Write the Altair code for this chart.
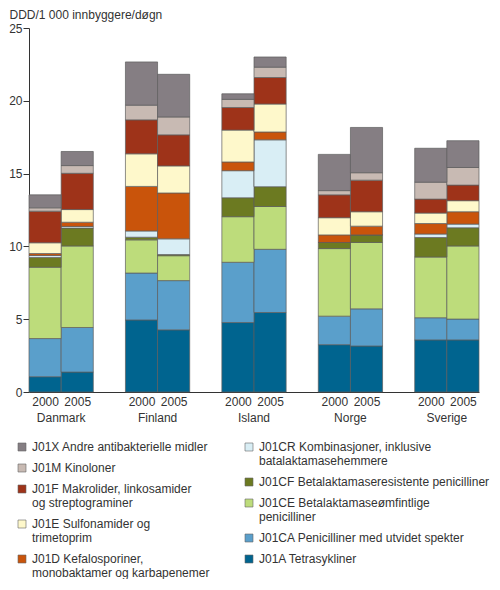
import altair as alt
import pandas as pd

# Data
countries = ["Danmark", "Finland", "Island", "Norge", "Sverige"]
years = ["2000", "2005"]

codes = ["J01A", "J01CA", "J01CE", "J01CF", "J01CR", "J01D", "J01E", "J01F", "J01M", "J01X"]
colors = ["#00648f", "#5a9fcb", "#bddc7b", "#6c7a21", "#d9eef5",
          "#c9540b", "#fef8cb", "#9e3319", "#c8bab3", "#857e83"]

# one value per bar: Danmark 2000, Danmark 2005, Finland 2000, Finland 2005, ...
j01a = [1.05, 1.37, 4.95, 4.27, 4.77, 5.46, 3.25, 3.16, 3.58, 3.58]
j01ca = [2.62, 3.06, 3.22, 3.38, 4.14, 4.34, 1.96, 2.55, 1.52, 1.43]
j01ce = [4.90, 5.60, 2.28, 1.71, 3.13, 2.94, 4.64, 4.56, 4.17, 5.02]
j01cf = [0.67, 1.23, 0.18, 0.08, 1.30, 1.36, 0.42, 0.52, 1.34, 1.25]
j01cr = [0.14, 0.11, 0.43, 1.08, 1.86, 3.22, 0.00, 0.00, 0.24, 0.25]
j01d = [0.13, 0.29, 3.06, 3.15, 0.60, 0.54, 0.52, 0.60, 0.72, 0.85]
j01e = [0.74, 0.87, 2.24, 1.86, 2.19, 1.92, 1.18, 0.99, 0.72, 0.76]
j01f = [2.17, 2.49, 2.33, 2.13, 1.55, 1.82, 1.57, 2.17, 0.96, 1.07]
j01m = [0.23, 0.53, 1.01, 1.23, 0.56, 0.71, 0.29, 0.51, 1.16, 1.21]
j01x = [0.89, 0.97, 2.97, 2.93, 0.38, 0.70, 2.49, 3.11, 2.33, 1.84]
series = [j01a, j01ca, j01ce, j01cf, j01cr, j01d, j01e, j01f, j01m, j01x]

labels = {
    "J01X": ["J01X Andre antibakterielle midler"],
    "J01M": ["J01M Kinoloner"],
    "J01F": ["J01F Makrolider, linkosamider", "og streptograminer"],
    "J01E": ["J01E Sulfonamider og", "trimetoprim"],
    "J01D": ["J01D Kefalosporiner,", "monobaktamer og karbapenemer"],
    "J01CR": ["J01CR Kombinasjoner, inklusive", "batalaktamasehemmere"],
    "J01CF": ["J01CF Betalaktamaseresistente penicilliner"],
    "J01CE": ["J01CE Betalaktamaseømfintlige", "penicilliner"],
    "J01CA": ["J01CA Penicilliner med utvidet spekter"],
    "J01A": ["J01A Tetrasykliner"],
}
legend_cols = [["J01X", "J01M", "J01F", "J01E", "J01D"],
               ["J01CR", "J01CF", "J01CE", "J01CA", "J01A"]]

# Data prep: each bar takes one slot, one empty slot between countries
rows = []
for i, (code, vals) in enumerate(zip(codes, series)):
    for b, v in enumerate(vals):
        pos = 3 * (b // 2) + b % 2
        rows.append({"code": code, "order": i, "pos": pos, "pos2": pos + 1, "value": v})
bars_df = pd.DataFrame(rows)
country_df = pd.DataFrame({"country": countries,
                           "center": [3 * c + 1 for c in range(len(countries))]})
year_ticks = [3 * c + k + 0.5 for c in range(len(countries)) for k in range(len(years))]

H = 364
color_scale = alt.Scale(domain=codes, range=colors)
x_scale = alt.Scale(domain=[0, 14], nice=False, zero=False)

bars = alt.Chart(bars_df).transform_stack(
    stack="value", groupby=["pos"], sort=[alt.SortField("order")], as_=["y0", "y1"]
).mark_bar(stroke="#5b5b5b", strokeWidth=0.7).encode(
    x=alt.X("pos:Q", scale=x_scale, axis=alt.Axis(
        values=year_ticks, labelExpr="datum.value % 3 < 1 ? '2000' : '2005'",
        ticks=False, title=None, grid=False, labelPadding=4, labelFlush=False)),
    x2="pos2:Q",
    y=alt.Y("y0:Q", scale=alt.Scale(domain=[0, 25]), axis=alt.Axis(
        values=[0, 5, 10, 15, 20, 25], title="DDD/1 000 innbyggere/døgn",
        titleAngle=0, titleAlign="left", titleBaseline="middle",
        titleX=-20, titleY=-14, titleFontWeight="normal",
        tickSize=6, labelPadding=1, grid=False)),
    y2="y1:Q",
    color=alt.Color("code:N", scale=color_scale, legend=None),
)

country_text = alt.Chart(country_df).mark_text(baseline="middle", fontSize=12).encode(
    x=alt.X("center:Q", scale=x_scale),
    y=alt.value(H + 26),
    text="country:N",
)

main = alt.layer(bars, country_text).properties(width=450, height=H)

# Legend: two independent columns, multi-line labels
sym_rows, txt_rows = [], []
for col, entries in enumerate(legend_cols):
    y = 7
    for code in entries:
        sym_rows.append({"col": col, "y": y, "code": code})
        for line in labels[code]:
            txt_rows.append({"col": col, "y": y, "text": line})
            y += 14
        y += 7
sym_df = pd.DataFrame(sym_rows)
txt_df = pd.DataFrame(txt_rows)

lx = alt.Scale(domain=[0, 1], range=[-7, 220])
ly = alt.Scale(domain=[0, 138], range=[0, 138])

symbols = alt.Chart(sym_df).mark_square(size=64, stroke="#666666", strokeWidth=0.6, opacity=1).encode(
    x=alt.X("col:Q", scale=lx, axis=None),
    y=alt.Y("y:Q", scale=ly, axis=None),
    color=alt.Color("code:N", scale=color_scale, legend=None),
)
texts = alt.Chart(txt_df).mark_text(align="left", baseline="middle", dx=10, fontSize=12).encode(
    x=alt.X("col:Q", scale=lx, axis=None),
    y=alt.Y("y:Q", scale=ly, axis=None),
    text="text:N",
)
legend = alt.layer(symbols, texts).properties(width=450, height=138)

chart = alt.vconcat(main, legend, spacing=16).properties(
    padding=0
).configure(
    font="Liberation Sans"
).configure_view(
    stroke=None
).configure_axis(
    labelFontSize=12, titleFontSize=12, labelColor="#333333", titleColor="#333333",
    domainColor="#333333", tickColor="#333333"
).configure_text(
    color="#333333"
)

chart.save("out.html", embed_options={"renderer": "svg", "actions": False})
